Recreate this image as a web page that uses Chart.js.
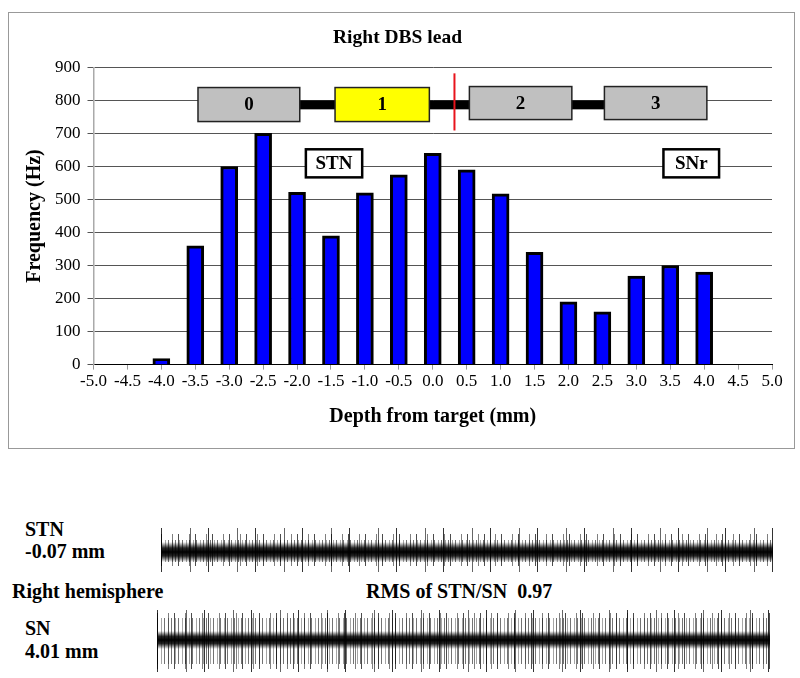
<!DOCTYPE html>
<html>
<head>
<meta charset="utf-8">
<script src="https://cdn.jsdelivr.net/npm/chart.js@4.4.0/dist/chart.umd.min.js"></script>
<style>
  body { margin: 0; background: #fff; font-family: "Liberation Serif", "Times New Roman", serif; }
  #page { position: relative; width: 800px; height: 678px; }
  #box { position: absolute; left: 8px; top: 12px; width: 785px; height: 435px; border: 1px solid #999; }
  .lbl { position: absolute; font-weight: bold; font-size: 20px; line-height: 23px; color: #000; white-space: nowrap; }
  .trace { position: absolute; }
  .trace div { position: absolute; left: 0; right: 0; }
  .s1 { background: repeating-linear-gradient(90deg, rgba(0,0,0,.55) 0 1px, transparent 1px 4px, rgba(0,0,0,.35) 4px 5px, transparent 5px 7px); }
  .s2 { background: repeating-linear-gradient(90deg, rgba(0,0,0,.7) 0 1px, transparent 1px 11px, rgba(0,0,0,.5) 11px 12px, transparent 12px 17px); }
  .s3 { background: repeating-linear-gradient(90deg, rgba(0,0,0,.8) 0 1px, transparent 1px 29px, rgba(0,0,0,.6) 29px 30px, transparent 30px 47px); }
  .core { background: linear-gradient(to bottom, transparent 0, rgba(0,0,0,.85) 30%, #000 50%, rgba(0,0,0,.85) 70%, transparent 100%); }
</style>
</head>
<body>
<div id="page">
  <div id="box"><canvas id="freqChart"></canvas></div>

  <div class="lbl" style="left:25px; top:518px;">STN</div>
  <div class="lbl" style="left:25px; top:540px;">-0.07 mm</div>
  <div class="lbl" style="left:12px; top:580px;">Right hemisphere</div>
  <div class="lbl" style="left:366px; top:580px;">RMS of STN/SN&nbsp; 0.97</div>
  <div class="lbl" style="left:25px; top:617px;">SN</div>
  <div class="lbl" style="left:25px; top:640px;">4.01 mm</div>

  <div class="trace" style="left:161px; top:526px; width:612px; height:48px;">
    <div class="s1" style="top:14px; height:22px;"></div>
    <div class="s2" style="top:8px; height:32px;"></div>
    <div class="s3" style="top:2px; height:44px;"></div>
    <div class="core" style="top:16px; height:20px;"></div>
  </div>
  <div class="trace" style="left:157px; top:610px; width:613px; height:62px;">
    <div class="s1" style="top:8px; height:46px;"></div>
    <div class="s2" style="top:3px; height:56px;"></div>
    <div class="s3" style="top:0px; height:62px;"></div>
    <div class="core" style="top:21px; height:18px;"></div>
  </div>
</div>

<script>
Chart.defaults.font.family = '"Liberation Serif", "Times New Roman", serif';
Chart.defaults.color = '#000';

// depth from target (mm) and firing frequency (Hz)
const depths = [-4.0, -3.5, -3.0, -2.5, -2.0, -1.5, -1.0, -0.5, 0.0, 0.5, 1.0, 1.5, 2.0, 2.5, 3.0, 3.5, 4.0];
const freqs = [18, 360, 600, 700, 522, 390, 520, 575, 640, 590, 517, 340, 190, 160, 268, 300, 280];

// DBS lead contacts (mm along depth, Hz along frequency axis)
const contactNames = ['0', '1', '2', '3'];
const contactFrom = [-3.46, -1.44, 0.54, 2.53];
const contactTo = [-1.96, -0.05, 2.05, 4.04];
const contactTop = [839, 839, 842, 842];
const contactBottom = [736, 736, 742, 742];
const contactFill = ['#c0c0c0', '#ffff00', '#c0c0c0', '#c0c0c0'];
const targetLine = 0.32;

// region labels
const regionNames = ['STN', 'SNr'];
const regionFrom = [-1.87, 3.40];
const regionTo = [-1.04, 4.22];

const leadPlugin = {
    id: 'leadDiagram',
    afterDatasetsDraw(chart) {
        const c = chart.ctx;
        const xs = chart.scales.x, ys = chart.scales.y;
        c.save();
        // wire between contacts
        c.fillStyle = '#000';
        for (let i = 0; i < contactNames.length - 1; i++) {
            const x1 = xs.getPixelForValue(contactTo[i]);
            const x2 = xs.getPixelForValue(contactFrom[i + 1]);
            const y1 = ys.getPixelForValue(800);
            const y2 = ys.getPixelForValue(773);
            c.fillRect(x1, y1, x2 - x1, y2 - y1);
        }
        // contacts
        c.font = 'bold 19px "Liberation Serif"';
        c.textAlign = 'center';
        c.textBaseline = 'middle';
        for (let i = 0; i < contactNames.length; i++) {
            const x1 = xs.getPixelForValue(contactFrom[i]);
            const x2 = xs.getPixelForValue(contactTo[i]);
            const y1 = ys.getPixelForValue(contactTop[i]);
            const y2 = ys.getPixelForValue(contactBottom[i]);
            c.fillStyle = contactFill[i];
            c.fillRect(x1, y1, x2 - x1, y2 - y1);
            c.strokeStyle = '#222';
            c.lineWidth = 1.5;
            c.strokeRect(x1, y1, x2 - x1, y2 - y1);
            c.fillStyle = '#000';
            c.fillText(contactNames[i], (x1 + x2) / 2, (y1 + y2) / 2 + 1);
        }
        // target marker
        const rx = xs.getPixelForValue(targetLine);
        c.strokeStyle = '#e8141c';
        c.lineWidth = 2;
        c.beginPath();
        c.moveTo(rx, ys.getPixelForValue(882));
        c.lineTo(rx, ys.getPixelForValue(709));
        c.stroke();
        // region labels
        c.font = 'bold 19px "Liberation Serif"';
        for (let i = 0; i < regionNames.length; i++) {
            const x1 = xs.getPixelForValue(regionFrom[i]);
            const x2 = xs.getPixelForValue(regionTo[i]);
            const y1 = ys.getPixelForValue(652);
            const y2 = ys.getPixelForValue(567);
            c.fillStyle = '#fff';
            c.fillRect(x1, y1, x2 - x1, y2 - y1);
            c.strokeStyle = '#000';
            c.lineWidth = 2.5;
            c.strokeRect(x1, y1, x2 - x1, y2 - y1);
            c.fillStyle = '#000';
            c.fillText(regionNames[i], (x1 + x2) / 2, (y1 + y2) / 2 + 1);
        }
        c.restore();
    }
};

const ctx = document.getElementById('freqChart');

const chart = new Chart(ctx, {
    type: 'bar',
    data: {
        datasets: [{
            label: 'Frequency',
            data: depths.map((d, i) => ({ x: d, y: freqs[i] })),
            backgroundColor: '#0000ff',
            borderColor: '#000',
            borderWidth: 3,
            barThickness: 17,
        }]
    },
    options: {
        responsive: true,
        maintainAspectRatio: false,
        animation: false,
        layout: { padding: { top: 12, left: 14, right: 22, bottom: 19 } },
        scales: {
            x: {
                type: 'linear',
                min: -5,
                max: 5,
                offset: false,
                grid: { offset: false, drawOnChartArea: false, drawTicks: true, tickLength: 5, color: '#999' },
                border: { color: '#000', width: 1 },
                ticks: {
                    stepSize: 0.5,
                    autoSkip: false,
                    maxRotation: 0,
                    padding: 2,
                    font: { size: 17 },
                    callback: v => Number(v).toFixed(1)
                },
                title: {
                    display: true,
                    text: 'Depth from target (mm)',
                    font: { size: 20, weight: 'bold' },
                    padding: { top: 11, bottom: 0 }
                }
            },
            y: {
                min: 0,
                max: 900,
                grid: { color: '#555', tickLength: 6 },
                border: { color: '#aaa', width: 1.5 },
                ticks: { stepSize: 100, padding: 7, font: { size: 17 } },
                title: {
                    display: true,
                    text: 'Frequency (Hz)',
                    font: { size: 20, weight: 'bold' },
                    padding: { top: 0, bottom: 1 }
                }
            }
        },
        plugins: {
            legend: { display: false },
            tooltip: { enabled: false },
            title: {
                display: true,
                text: 'Right DBS lead',
                font: { size: 19.5, weight: 'bold' },
                padding: { top: 1, bottom: 18 }
            }
        }
    },
    plugins: [leadPlugin]
});
</script>
</body>
</html>
